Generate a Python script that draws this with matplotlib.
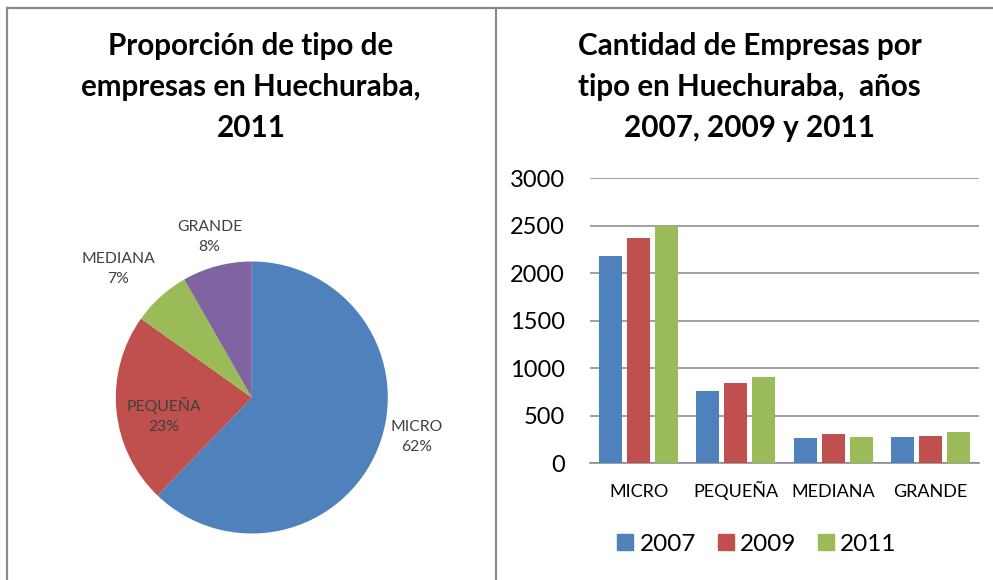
import numpy as np
import matplotlib
matplotlib.use('Agg')
import matplotlib.pyplot as plt
from matplotlib.lines import Line2D

plt.rcParams['font.family'] = ['Lato', 'DejaVu Sans']

# data
categories = ['MICRO', 'PEQUEÑA', 'MEDIANA', 'GRANDE']
years = ['2007', '2009', '2011']
empresas_2007 = [2180, 764, 263, 277]
empresas_2009 = [2368, 845, 305, 291]
empresas_2011 = [2502, 912, 277, 333]
y_ticks = [0, 500, 1000, 1500, 2000, 2500, 3000]

pie_title = 'Proporción de tipo de\nempresas en Huechuraba,\n2011'
bar_title = 'Cantidad de Empresas por\ntipo en Huechuraba,  años\n2007, 2009 y 2011'

colors = ['#4F81BD', '#C0504D', '#9BBB59', '#8064A2']
grid_gray = '#868686'

W, H = 993, 580
fig = plt.figure(figsize=(W / 100, H / 100), dpi=100)


def px_axes(x0, y0, x1, y1):
    # axes from pixel box (top-left origin)
    return fig.add_axes([x0 / W, (H - y1) / H, (x1 - x0) / W, (y1 - y0) / H])


# panel borders
bg = fig.add_axes([0, 0, 1, 1])
bg.set_xlim(0, W)
bg.set_ylim(H, 0)
bg.axis('off')
bg.plot([7, W], [7.5, 7.5], color='#8a8a8a', lw=1.6)
bg.plot([7, 7], [7.5, H], color='#8a8a8a', lw=1.6)
bg.plot([496, 496], [7.5, H], color='#8a8a8a', lw=1.6)

# ---------------- pie ----------------
cx, cy, r = 251.8, 397.5, 136.0
ax_pie = px_axes(cx - 1.6 * r, cy - 1.6 * r, cx + 1.6 * r, cy + 1.35 * r)
wedges, _ = ax_pie.pie(empresas_2011, colors=colors, startangle=90,
                       counterclock=False, radius=1.0,
                       wedgeprops=dict(linewidth=0))
ax_pie.set_xlim(-1.6, 1.6)
ax_pie.set_ylim(-1.35, 1.6)

total = float(sum(empresas_2011))
pcts = [v / total * 100 for v in empresas_2011]
label_pos = [(1.213, -0.287), (-0.647, -0.136), (-0.98, 0.945), (-0.31, 1.18)]
for name, pct, (lx, ly) in zip(categories, pcts, label_pos):
    ax_pie.text(lx, ly, '{}\n{:.0f}%'.format(name, pct), ha='center', va='center',
                fontsize=11.3, color='#404040', linespacing=1.55)

fig.text(251 / W, 1 - 87 / H, pie_title, ha='center', va='center',
         fontsize=21.3, fontweight='bold', linespacing=1.55)

# ---------------- bars ----------------
ax_bar = px_axes(590, 178.3, 979, 463.3)
x = np.arange(len(categories))
step = 0.288
width = 0.235
series = [empresas_2007, empresas_2009, empresas_2011]
for i, (vals, year) in enumerate(zip(series, years)):
    ax_bar.bar(x + (i - 1) * step, vals, width=width, color=colors[i], label=year, zorder=3)

ax_bar.set_xlim(-0.5, 3.5)
ax_bar.set_ylim(0, 3000)
ax_bar.set_yticks(y_ticks)
ax_bar.set_xticks(x)
ax_bar.set_xticklabels(categories, va='baseline')
ax_bar.yaxis.grid(True, color=grid_gray, lw=1.1, zorder=0)
for s in ['top', 'right', 'left']:
    ax_bar.spines[s].set_visible(False)
ax_bar.spines['bottom'].set_color(grid_gray)
ax_bar.spines['bottom'].set_linewidth(1.1)
ax_bar.tick_params(axis='y', length=0, pad=18, labelsize=17)
ax_bar.tick_params(axis='x', length=0, pad=24, labelsize=13)

handles = [Line2D([], [], marker='s', linestyle='', markersize=12,
                  markerfacecolor=c, markeredgecolor=c) for c in colors[:3]]
fig.legend(handles, years, loc='center', bbox_to_anchor=(755 / W, 1 - 544 / H),
           ncol=3, frameon=False, fontsize=17.5, handletextpad=0.1,
           columnspacing=0.7, handlelength=1.0)

fig.text(749.5 / W, 1 - 87 / H, bar_title, ha='center', va='center',
         fontsize=21.3, fontweight='bold', linespacing=1.55)

plt.savefig('out.png', dpi=100)
plt.close()
